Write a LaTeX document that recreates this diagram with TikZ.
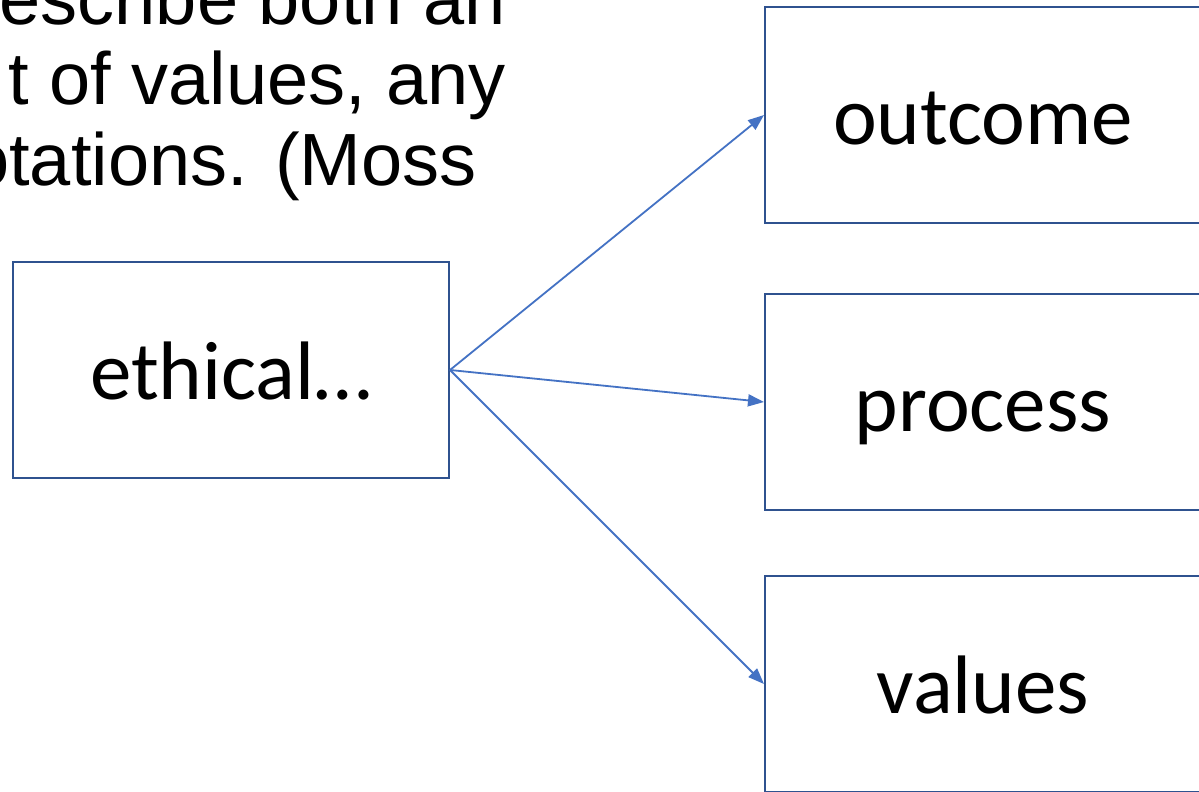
\documentclass[tikz,border=0pt]{standalone}
\usepackage{fontspec}
\setmainfont{Carlito}
\newfontfamily\arialfont{Liberation Sans}
\usetikzlibrary{arrows.meta}
\definecolor{boxblue}{HTML}{2F528F}
\definecolor{arrowblue}{HTML}{4472C4}
\tikzset{
  conceptbox/.style={draw=boxblue, line width=2pt, minimum width=436pt, minimum height=216pt,
    inner sep=0pt, text height=62pt, text depth=4pt,
    font=\fontsize{83}{98}\selectfont, text=black},
  linkarrow/.style={draw=arrowblue, line width=1.8pt, -{Triangle[length=16pt,width=12pt]}},
  slidetext/.style={font=\arialfont\fontsize{74}{80}\selectfont, inner sep=0pt, anchor=base east, text=black}
}
\begin{document}
\begin{tikzpicture}[x=1pt,y=-1pt]
\useasboundingbox (0,0) rectangle (1199,792);
\clip (0,0) rectangle (1199,792);
\fill[white] (0,0) rectangle (1199,792);
% partial slide text
\node[slidetext] (l1) at (506,25) {describe both an};
\node[slidetext] (l2) at (506,104) {t of values, any};
\node[slidetext] (l3) at (477,185) {otations. (Moss};
% boxes
\node[conceptbox] (eth) at (231,370) {ethical…};
\node[conceptbox] (out) at (983,115) {outcome};
\node[conceptbox] (pro) at (983,402) {process};
\node[conceptbox] (val) at (983,684) {values};
% arrows
\draw[linkarrow] (eth.east) -- (out.west);
\draw[linkarrow] (eth.east) -- (pro.west);
\draw[linkarrow] (eth.east) -- (val.west);
\end{tikzpicture}
\end{document}
